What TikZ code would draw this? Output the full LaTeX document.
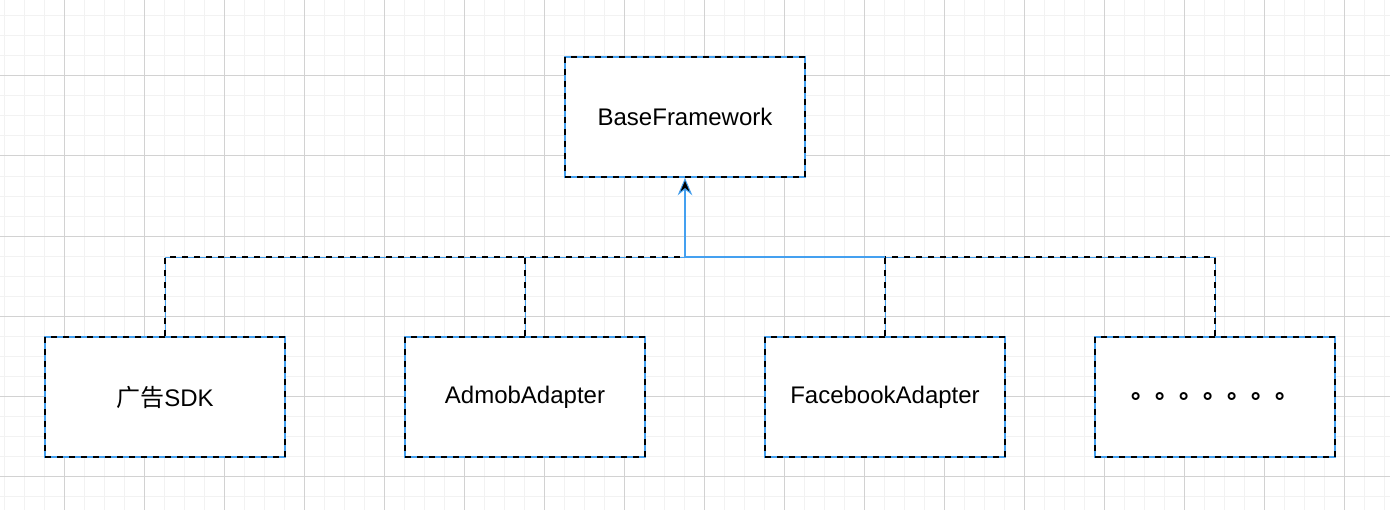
\documentclass[tikz,border=0pt]{standalone}
\usepackage{fontspec}
\setmainfont{Liberation Sans}
\newfontfamily\cjk{Noto Sans CJK SC}
\usepackage{tikz}
\usetikzlibrary{arrows.meta}
\definecolor{selblue}{RGB}{68,160,240}

\begin{document}
\begin{tikzpicture}[x=0.75pt,y=-0.75pt,
		box/.style={draw=black,line width=1.5pt,dash pattern=on 4.5pt off 4.5pt,
			preaction={fill=white,draw=selblue,solid},
			minimum width=180pt,minimum height=90pt,
			font=\fontsize{18pt}{22pt}\selectfont},
		link/.style={draw=black,line width=1.5pt,dash pattern=on 4.5pt off 4.5pt,
			preaction={draw=selblue,solid}},
		hot/.style={draw=selblue,line width=1.5pt}]
				\useasboundingbox[fill=white] (0,0) rectangle (1390,510);
				\foreach \gx in {4,24,...,1384}
				\draw[gray!10,line width=0.75pt] (\gx,0) -- (\gx,510);
				\foreach \gy in {16,36,...,496}
				\draw[gray!10,line width=0.75pt] (0,\gy) -- (1390,\gy);
				\foreach \gx in {64,144,...,1344}
				\draw[gray!35,line width=0.75pt] (\gx,0) -- (\gx,510);
				\foreach \gy in {76,156,...,476}
				\draw[gray!35,line width=0.75pt] (0,\gy) -- (1390,\gy);
				
				\coordinate (bus) at (685,257);
				\coordinate (fork) at (885,257);
				\node [box] (base) at (685,117) {BaseFramework};
				\node [box] (sdk) at (165,397) {{\cjk 广告}SDK};
				\node [box] (admob) at (525,397) {AdmobAdapter};
				\node [box] (facebook) at (885,397) {FacebookAdapter};
				\node [box] (more) at (1215,397) {\cjk\bfseries 。。。。。。。};
				
				\foreach \child in {sdk,admob}
				\draw[link] (\child.north) |- (bus);
				\foreach \child in {facebook,more}
				\draw[link] (\child.north) |- (fork);
				\draw[hot] (fork) -- (bus);
				\draw[hot,-{Stealth[length=13pt,width=11pt,inset=4.5pt,fill=black,line width=0.75pt]}] (bus) -- (base.south);
				
			\end{tikzpicture}
\end{document}
